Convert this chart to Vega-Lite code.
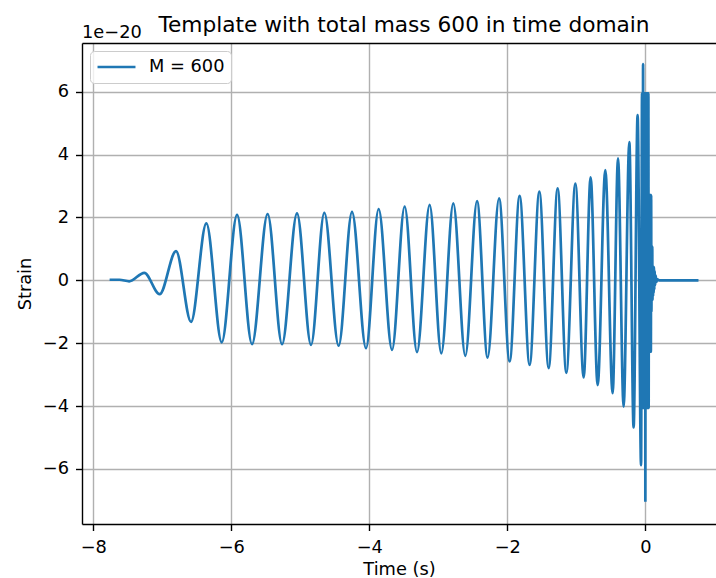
{
  "$schema": "https://vega.github.io/schema/vega-lite/v6.json",
  "autosize": "none",
  "width": 634,
  "height": 481,
  "padding": {"left": 82, "top": 43, "right": 0, "bottom": 54},
  "background": "white",
  "title": {"text": "Template with total mass 600 in time domain", "font": "DejaVu Sans", "fontSize": 21.7, "fontWeight": "normal", "color": "black", "anchor": "middle", "baseline": "alphabetic", "offset": -30, "dx": 5},
  "config": {
    "view": {"stroke": null},
    "axis": {"domainColor": "black", "domainWidth": 1.4, "tickColor": "black", "tickWidth": 1.4, "tickSize": 6.5, "labelFont": "DejaVu Sans", "labelFontSize": 17.8, "labelColor": "black", "titleFont": "DejaVu Sans", "titleFontSize": 17.8, "titleFontWeight": "normal", "titleColor": "black", "gridColor": "#b0b0b0", "gridWidth": 1.4, "labelFlush": false},
    "legend": {"orient": "top-left", "offset": 8, "symbolType": "stroke", "symbolSize": 1440, "symbolStrokeWidth": 2.7, "labelFont": "DejaVu Sans", "labelFontSize": 17.8, "labelColor": "black", "labelOffset": 12, "padding": 6, "fillColor": "rgba(255,255,255,0.8)", "strokeColor": "#cccccc", "cornerRadius": 4, "clipHeight": 20}
  },
  "layer": [
    {
      "data": {"values": [
        {"t": -7.764, "h": 0.02, "s": "M = 600"},
        {"t": -7.62, "h": 0.02, "s": "M = 600"},
        {"t": -7.48, "h": -0.03, "s": "M = 600"},
        {"t": -7.261, "h": 0.24, "s": "M = 600"},
        {"t": -7.039, "h": -0.44, "s": "M = 600"},
        {"t": -6.801, "h": 0.93, "s": "M = 600"},
        {"t": -6.584, "h": -1.32, "s": "M = 600"},
        {"t": -6.362, "h": 1.81, "s": "M = 600"},
        {"t": -6.139, "h": -1.97, "s": "M = 600"},
        {"t": -5.917, "h": 2.08, "s": "M = 600"},
        {"t": -5.700, "h": -2.03, "s": "M = 600"},
        {"t": -5.474, "h": 2.11, "s": "M = 600"},
        {"t": -5.265, "h": -2.03, "s": "M = 600"},
        {"t": -5.048, "h": 2.13, "s": "M = 600"},
        {"t": -4.845, "h": -2.05, "s": "M = 600"},
        {"t": -4.652, "h": 2.15, "s": "M = 600"},
        {"t": -4.445, "h": -2.08, "s": "M = 600"},
        {"t": -4.251, "h": 2.18, "s": "M = 600"},
        {"t": -4.048, "h": -2.16, "s": "M = 600"},
        {"t": -3.865, "h": 2.27, "s": "M = 600"},
        {"t": -3.671, "h": -2.21, "s": "M = 600"},
        {"t": -3.488, "h": 2.35, "s": "M = 600"},
        {"t": -3.309, "h": -2.28, "s": "M = 600"},
        {"t": -3.126, "h": 2.40, "s": "M = 600"},
        {"t": -2.957, "h": -2.32, "s": "M = 600"},
        {"t": -2.783, "h": 2.45, "s": "M = 600"},
        {"t": -2.609, "h": -2.40, "s": "M = 600"},
        {"t": -2.439, "h": 2.52, "s": "M = 600"},
        {"t": -2.286, "h": -2.46, "s": "M = 600"},
        {"t": -2.120, "h": 2.61, "s": "M = 600"},
        {"t": -1.967, "h": -2.58, "s": "M = 600"},
        {"t": -1.822, "h": 2.69, "s": "M = 600"},
        {"t": -1.677, "h": -2.69, "s": "M = 600"},
        {"t": -1.536, "h": 2.82, "s": "M = 600"},
        {"t": -1.401, "h": -2.79, "s": "M = 600"},
        {"t": -1.271, "h": 2.93, "s": "M = 600"},
        {"t": -1.145, "h": -2.94, "s": "M = 600"},
        {"t": -1.014, "h": 3.08, "s": "M = 600"},
        {"t": -0.894, "h": -3.09, "s": "M = 600"},
        {"t": -0.793, "h": 3.28, "s": "M = 600"},
        {"t": -0.691, "h": -3.33, "s": "M = 600"},
        {"t": -0.580, "h": 3.51, "s": "M = 600"},
        {"t": -0.474, "h": -3.59, "s": "M = 600"},
        {"t": -0.396, "h": 3.88, "s": "M = 600"},
        {"t": -0.315, "h": -4.02, "s": "M = 600"},
        {"t": -0.232, "h": 4.40, "s": "M = 600"},
        {"t": -0.170, "h": -4.68, "s": "M = 600"},
        {"t": -0.112, "h": 5.26, "s": "M = 600"},
        {"t": -0.062, "h": -5.88, "s": "M = 600"},
        {"t": -0.048, "h": 5.95, "s": "M = 600"},
        {"t": -0.044, "h": -4.0, "s": "M = 600"},
        {"t": -0.040, "h": 5.95, "s": "M = 600"},
        {"t": -0.036, "h": -4.0, "s": "M = 600"},
        {"t": -0.033, "h": 6.88, "s": "M = 600"},
        {"t": -0.029, "h": -4.06, "s": "M = 600"},
        {"t": -0.025, "h": 5.95, "s": "M = 600"},
        {"t": -0.021, "h": -4.06, "s": "M = 600"},
        {"t": -0.017, "h": 5.95, "s": "M = 600"},
        {"t": -0.013, "h": -4.06, "s": "M = 600"},
        {"t": -0.009, "h": 5.95, "s": "M = 600"},
        {"t": -0.005, "h": -4.06, "s": "M = 600"},
        {"t": -0.002, "h": 5.95, "s": "M = 600"},
        {"t": 0.0, "h": -7.04, "s": "M = 600"},
        {"t": 0.004, "h": 5.95, "s": "M = 600"},
        {"t": 0.008, "h": -4.06, "s": "M = 600"},
        {"t": 0.012, "h": 5.95, "s": "M = 600"},
        {"t": 0.016, "h": -4.06, "s": "M = 600"},
        {"t": 0.020, "h": 5.95, "s": "M = 600"},
        {"t": 0.024, "h": -4.06, "s": "M = 600"},
        {"t": 0.028, "h": 5.95, "s": "M = 600"},
        {"t": 0.032, "h": -4.06, "s": "M = 600"},
        {"t": 0.036, "h": 5.95, "s": "M = 600"},
        {"t": 0.040, "h": -4.06, "s": "M = 600"},
        {"t": 0.044, "h": 5.95, "s": "M = 600"},
        {"t": 0.048, "h": -4.06, "s": "M = 600"},
        {"t": 0.052, "h": 2.71, "s": "M = 600"},
        {"t": 0.056, "h": -2.27, "s": "M = 600"},
        {"t": 0.060, "h": 2.71, "s": "M = 600"},
        {"t": 0.064, "h": -2.27, "s": "M = 600"},
        {"t": 0.068, "h": 2.71, "s": "M = 600"},
        {"t": 0.072, "h": -2.27, "s": "M = 600"},
        {"t": 0.076, "h": 2.71, "s": "M = 600"},
        {"t": 0.080, "h": -2.27, "s": "M = 600"},
        {"t": 0.084, "h": 2.71, "s": "M = 600"},
        {"t": 0.088, "h": -1.0, "s": "M = 600"},
        {"t": 0.092, "h": 1.07, "s": "M = 600"},
        {"t": 0.096, "h": -0.63, "s": "M = 600"},
        {"t": 0.100, "h": 1.07, "s": "M = 600"},
        {"t": 0.104, "h": -0.63, "s": "M = 600"},
        {"t": 0.108, "h": 0.42, "s": "M = 600"},
        {"t": 0.112, "h": -0.5, "s": "M = 600"},
        {"t": 0.116, "h": 0.42, "s": "M = 600"},
        {"t": 0.120, "h": -0.4, "s": "M = 600"},
        {"t": 0.124, "h": 0.42, "s": "M = 600"},
        {"t": 0.130, "h": -0.3, "s": "M = 600"},
        {"t": 0.136, "h": 0.3, "s": "M = 600"},
        {"t": 0.142, "h": -0.15, "s": "M = 600"},
        {"t": 0.150, "h": 0.15, "s": "M = 600"},
        {"t": 0.160, "h": -0.05, "s": "M = 600"},
        {"t": 0.175, "h": 0.03, "s": "M = 600"},
        {"t": 0.200, "h": 0.0, "s": "M = 600"},
        {"t": 0.770, "h": 0.0, "s": "M = 600"}
      ]},
      "mark": {"type": "line", "interpolate": "monotone", "strokeWidth": 2.7},
      "encoding": {
        "x": {"field": "t", "type": "quantitative", "scale": {"domain": [-8.164, 1.024], "nice": false, "zero": false}, "axis": {"values": [-8, -6, -4, -2, 0], "title": "Time (s)", "grid": true, "labelPadding": 8, "titlePadding": 4}},
        "y": {"field": "h", "type": "quantitative", "scale": {"domain": [-7.75, 7.55], "nice": false, "zero": false}, "axis": {"values": [-6, -4, -2, 0, 2, 4, 6], "title": "Strain", "grid": true, "labelPadding": 7, "titlePadding": 8}},
        "color": {"field": "s", "type": "nominal", "scale": {"range": ["#1f77b4"]}, "legend": {"title": null}},
        "order": {"field": "t", "type": "quantitative"}
      }
    },
    {
      "data": {"values": [{"label": "1e−20", "t": -8.164, "h": 7.55}]},
      "mark": {"type": "text", "font": "DejaVu Sans", "fontSize": 17.8, "color": "black", "align": "left", "baseline": "alphabetic", "dy": -5},
      "encoding": {
        "text": {"field": "label"},
        "x": {"field": "t", "type": "quantitative", "axis": {"orient": "top", "labels": false, "ticks": false, "grid": false, "title": null, "domain": true}},
        "y": {"field": "h", "type": "quantitative"}
      }
    }
  ],
  "resolve": {"axis": {"x": "independent"}}
}
